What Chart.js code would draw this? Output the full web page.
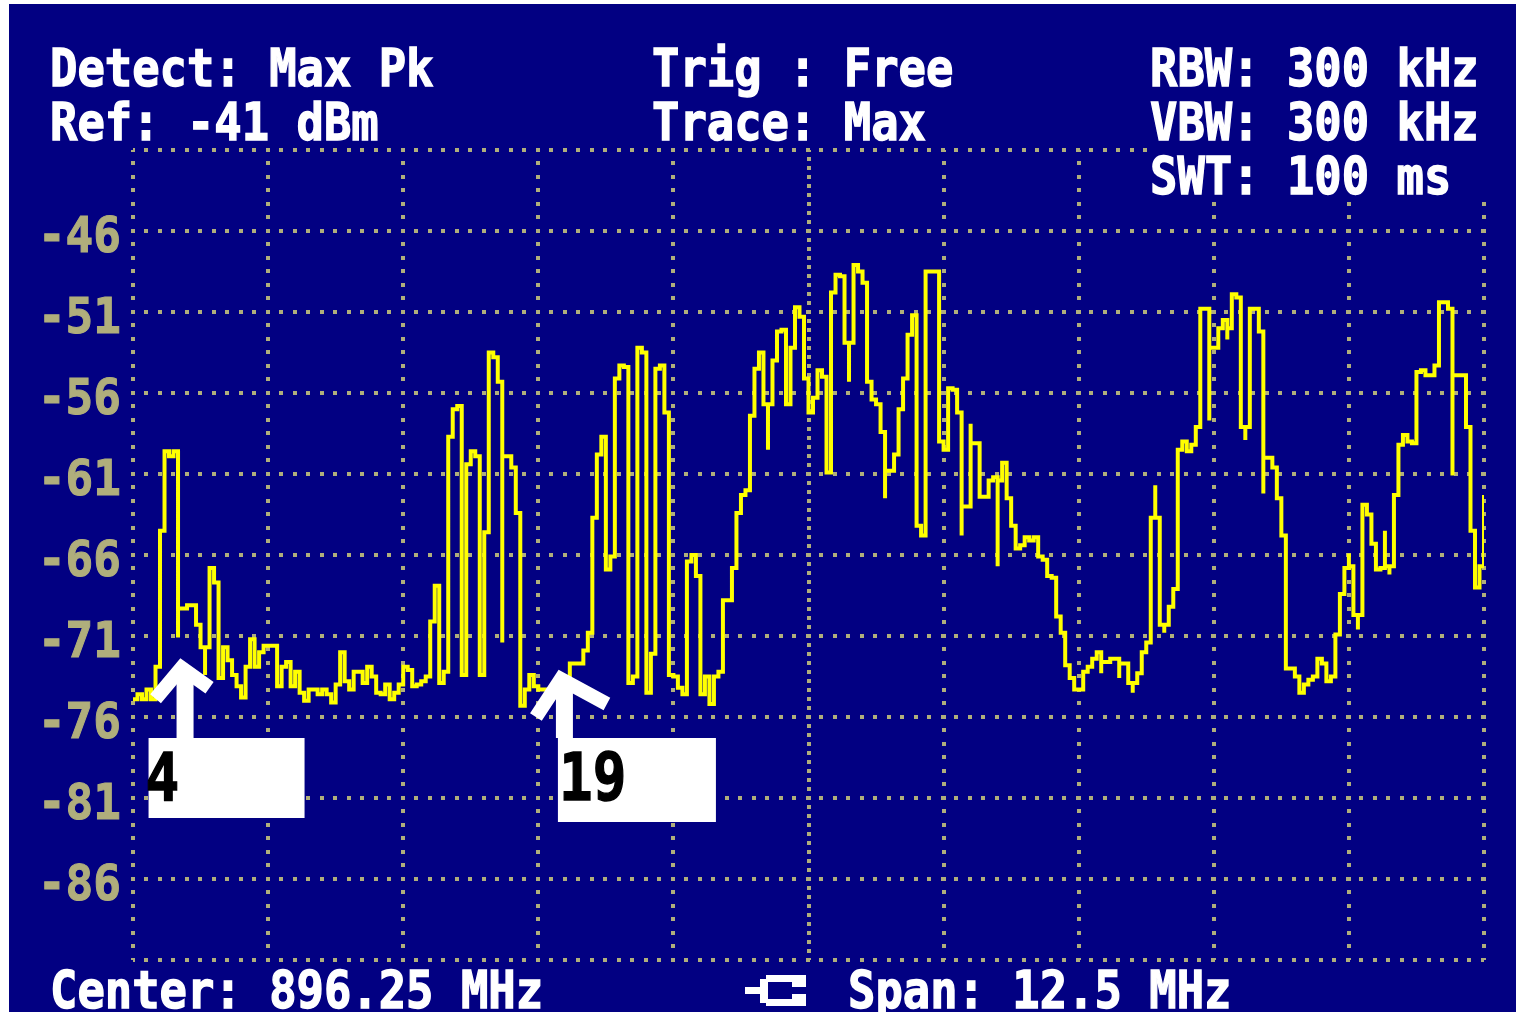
<!DOCTYPE html>
<html><head><meta charset="utf-8">
<script src="https://cdn.jsdelivr.net/npm/chart.js@4.4.0/dist/chart.umd.min.js"></script>
<style>
html,body{margin:0;padding:0;background:#ffffff;overflow:hidden;}
#c{position:absolute;left:0;top:0;}
</style></head><body>
<canvas id="c" width="1516" height="1014"></canvas>
<script>
// ---- instrument settings ----
const centerMHz = 896.25;
const spanMHz = 12.5;
const sweepPoints = 301;
const refLevelDbm = -41;
const bottomLevelDbm = -91;
const dbPerDiv = 5;
const yLabelValues = [-46, -51, -56, -61, -66, -71, -76, -81, -86];

// ---- trace (Max Pk, dBm), one value per sweep point ----
const levelDbm = [
-74.9,-74.6,-74.9,-74.3,-74.9,-72.9,-64.5,-59.6,-59.9,-59.6,
-71.1,-69.3,-69.1,-69.1,-70.3,-71.7,-73.4,-66.8,-67.7,-73.6,
-71.7,-72.5,-73.4,-74.1,-74.8,-72.9,-71.2,-72.9,-72.0,-71.6,
-71.6,-71.6,-74.1,-72.9,-72.6,-74.1,-73.2,-74.5,-75.0,-74.3,
-74.3,-74.6,-74.3,-74.6,-75.1,-74.0,-72.0,-73.8,-74.3,-73.2,
-73.2,-73.9,-72.9,-73.5,-74.5,-74.6,-74.0,-74.9,-74.5,-74.0,
-72.9,-73.1,-74.1,-74.0,-73.8,-73.5,-70.1,-67.9,-73.9,-73.2,
-58.7,-57.0,-56.8,-73.4,-60.4,-59.6,-59.9,-73.4,-64.6,-53.5,
-53.8,-55.3,-71.4,-59.9,-60.6,-63.4,-75.3,-74.3,-73.4,-74.1,
-74.3,-74.3,-74.3,-74.2,-74.2,-74.1,-73.7,-72.7,-72.7,-72.7,
-71.9,-70.8,-63.7,-59.8,-58.7,-66.9,-66.1,-55.1,-54.3,-54.4,
-73.9,-73.5,-53.2,-53.5,-74.5,-72.1,-54.5,-54.3,-57.2,-73.4,
-73.5,-74.2,-74.6,-66.4,-66.0,-67.3,-74.6,-73.5,-75.2,-73.5,
-73.2,-68.8,-68.8,-66.8,-63.4,-62.3,-62.0,-57.4,-54.5,-53.5,
-56.7,-59.5,-54.0,-52.2,-52.1,-56.7,-53.2,-50.7,-51.3,-55.1,
-57.2,-56.3,-54.6,-55.0,-60.9,-49.8,-48.7,-48.8,-52.9,-55.3,
-48.1,-48.5,-49.2,-55.3,-56.4,-56.7,-58.4,-62.5,-60.8,-59.8,
-57.0,-55.1,-52.4,-51.2,-64.2,-64.8,-48.5,-48.5,-48.5,-59.0,
-59.5,-55.7,-55.8,-57.2,-64.8,-63.0,-57.9,-59.1,-62.4,-62.4,
-61.4,-61.2,-66.7,-60.3,-62.5,-64.2,-65.6,-65.4,-64.9,-65.1,
-64.9,-66.1,-66.3,-67.3,-67.4,-69.8,-70.8,-72.8,-73.6,-74.3,
-74.3,-73.2,-72.9,-72.4,-72.0,-73.3,-72.6,-72.4,-72.4,-73.6,
-72.7,-73.9,-74.5,-73.3,-72.0,-71.4,-63.7,-61.7,-70.3,-70.8,
-69.2,-68.1,-59.5,-59.0,-59.6,-59.2,-58.1,-50.8,-50.8,-57.7,
-53.2,-52.0,-51.5,-52.7,-49.9,-50.1,-58.1,-58.9,-50.8,-50.8,
-52.2,-62.2,-60.0,-60.6,-62.5,-64.8,-73.0,-73.0,-73.5,-74.5,
-74.0,-73.7,-73.5,-72.4,-72.7,-73.8,-73.5,-70.9,-68.4,-66.8,
-65.9,-69.7,-70.6,-62.9,-63.5,-65.3,-66.9,-66.8,-64.5,-67.2,
-62.3,-59.2,-58.6,-59.0,-59.1,-54.7,-54.6,-54.9,-54.9,-54.3,
-50.4,-50.4,-50.8,-61.1,-54.9,-54.9,-58.1,-64.5,-68.0,-66.7,-62.3
];
// level the trace returns to inside the same sweep point (peak within one pixel column)
const returnDbm = {10:-69.3, 16:-71.7, 82:-59.9, 141:-56.7, 159:-52.9, 167:-60.8, 184:-63.0,
  186:-59.1, 192:-61.4, 215:-72.6, 219:-72.7, 222:-73.9, 227:-63.7, 229:-70.3, 239:-53.2,
  243:-52.0, 247:-58.1, 251:-60.0, 270:-66.7, 272:-69.7, 278:-66.7, 279:-66.7, 293:-54.9};

// ---- markers ----
const markerLabels = ['4', '19'];
const markerFreqMHz = [890.44, 893.95];
const markerDbm = [-72.4, -73.1];

// ---- texts ----
const headerLeft = ['Detect: Max Pk', 'Ref: -41 dBm'];
const headerMid = ['Trig : Free', 'Trace: Max'];
const headerRight = ['RBW: 300 kHz', 'VBW: 300 kHz', 'SWT: 100 ms'];
const footerLeft = 'Center: 896.25 MHz';
const footerRight = 'Span: 12.5 MHz';

// ---- style ----
const BLUE = '#020082';
const GRID = '#b0ae7c';
const TRACE = '#ffff00';
const FONT = '"DejaVu Sans Mono", "Liberation Mono", monospace';
const DOTS = [4, 9, 4, 10];

const points = [];
levelDbm.forEach((v, i) => {
  const f = centerMHz - spanMHz / 2 + i * spanMHz / (sweepPoints - 1);
  points.push({x: f, y: v});
  if (returnDbm[i] !== undefined) points.push({x: f, y: returnDbm[i]});
});

function pixText(ctx, str, x, baseline, size, sy, color, align, stroke) {
  ctx.save();
  ctx.font = 'bold ' + size + 'px ' + FONT;
  ctx.fillStyle = color;
  ctx.strokeStyle = color;
  ctx.lineWidth = stroke || 0;
  ctx.lineJoin = 'miter';
  ctx.textAlign = align || 'left';
  ctx.textBaseline = 'alphabetic';
  ctx.translate(x, baseline);
  ctx.scale(1, sy);
  ctx.fillText(str, 0, 0);
  if (stroke) ctx.strokeText(str, 0, 0);
  ctx.restore();
}

const framePlugin = {
  id: 'frame',
  beforeDraw(chart) {
    const ctx = chart.ctx;
    ctx.save();
    ctx.fillStyle = '#ffffff';
    ctx.fillRect(0, 0, chart.width, chart.height);
    ctx.fillStyle = BLUE;
    ctx.fillRect(9, 4, chart.width - 9, 1008);
    ctx.restore();
  }
};

const overlayPlugin = {
  id: 'overlay',
  afterDraw(chart) {
    const ctx = chart.ctx;
    const xs = chart.scales.x, ys = chart.scales.y;
    ctx.save();
    // area behind the SWT readout hides the grid
    ctx.fillStyle = BLUE;
    ctx.fillRect(1149, 138, chart.width - 1149, 63);

    // header / footer
    const W = '#ffffff';
    const fs = 45.5, sy = 1.12, sw = 1.2;
    pixText(ctx, headerLeft[0], 50, 86, fs, sy, W, 'left', sw);
    pixText(ctx, headerLeft[1], 50, 140, fs, sy, W, 'left', sw);
    pixText(ctx, headerMid[0], 652, 86, fs, sy, W, 'left', sw);
    pixText(ctx, headerMid[1], 652, 140, fs, sy, W, 'left', sw);
    pixText(ctx, headerRight[0], 1150, 86, fs, sy, W, 'left', sw);
    pixText(ctx, headerRight[1], 1150, 140, fs, sy, W, 'left', sw);
    pixText(ctx, headerRight[2], 1150, 194, fs, sy, W, 'left', sw);
    pixText(ctx, footerLeft, 50, 1008, fs, sy, W, 'left', sw);
    pixText(ctx, footerRight, 848, 1008, fs, sy, W, 'left', sw);

    // span/input icon
    ctx.fillStyle = W;
    ctx.fillRect(745, 987, 17, 7);
    ctx.fillRect(766, 975, 32, 7);
    ctx.fillRect(766, 999, 32, 7);
    ctx.fillRect(760, 979, 8, 24);
    ctx.fillRect(792, 975, 14, 12);
    ctx.fillRect(792, 994, 14, 12);

    // y labels
    yLabelValues.forEach(v => {
      const py = ys.getPixelForValue(v);
      pixText(ctx, String(v), 121, py + 21, 46, 1.1, GRID, 'right', 1);
    });

    // markers
    const boxDx = [-32, -2], boxW = [156, 158], boxH = [80, 84], txtDx = [-3, 1];
    const wingL = [[-25, 40], [-24, 47]], wingR = [[29, 29], [47, 34]];
    const boxTop = 738;
    markerLabels.forEach((lab, i) => {
      const tx = xs.getPixelForValue(markerFreqMHz[i]);
      const ty = ys.getPixelForValue(markerDbm[i]);
      ctx.strokeStyle = W; ctx.fillStyle = W;
      ctx.lineWidth = 14; ctx.lineJoin = 'miter'; ctx.lineCap = 'butt';
      ctx.beginPath();
      ctx.moveTo(tx + wingL[i][0], ty + wingL[i][1]);
      ctx.lineTo(tx + 1, ty + 9);
      ctx.lineTo(tx + wingR[i][0], ty + wingR[i][1]);
      ctx.stroke();
      ctx.fillRect(tx - 4, ty + 14, 17, boxTop - ty - 14);
      const bx = tx + boxDx[i];
      ctx.fillRect(bx, boxTop, boxW[i], boxH[i]);
      pixText(ctx, lab, bx + txtDx[i], 800, 56, 1.18, '#000000', 'left', 1.2);
    });
    ctx.restore();
  }
};

const chart = new Chart(document.getElementById('c'), {
  type: 'line',
  data: {
    datasets: [{
      data: points,
      borderColor: TRACE,
      borderWidth: 4,
      pointRadius: 0,
      stepped: true,
      fill: false,
      xAxisID: 'x',
      yAxisID: 'y'
    }]
  },
  options: {
    responsive: false,
    devicePixelRatio: 1,
    animation: false,
    events: [],
    layout: {padding: {left: 0, top: 150, right: 32, bottom: 54}},
    plugins: {legend: {display: false}, tooltip: {enabled: false}, title: {display: false}},
    scales: {
      x: {
        type: 'linear', position: 'bottom',
        min: centerMHz - spanMHz / 2, max: centerMHz + spanMHz / 2,
        ticks: {display: false, stepSize: spanMHz / 10},
        grid: {
          color: c => (c.tick && Math.abs(c.tick.value - centerMHz) < 1e-6) ? 'rgba(0,0,0,0)' : GRID,
          lineWidth: 4, drawTicks: false
        },
        border: {display: false, dash: DOTS, dashOffset: 2},
        afterFit: s => { s.height = 0; }
      },
      xc: {
        type: 'linear', position: 'bottom',
        min: centerMHz - spanMHz / 2, max: centerMHz + spanMHz / 2,
        afterBuildTicks: s => { s.ticks = [{value: centerMHz}]; },
        ticks: {display: false},
        grid: {color: GRID, lineWidth: 4, drawTicks: false},
        border: {display: false, dash: [4, 5], dashOffset: 2},
        afterFit: s => { s.height = 0; }
      },
      y: {
        type: 'linear', position: 'left',
        min: bottomLevelDbm, max: refLevelDbm,
        ticks: {display: false, stepSize: dbPerDiv},
        grid: {color: GRID, lineWidth: 4, drawTicks: false},
        border: {display: false, dash: DOTS, dashOffset: 2},
        afterFit: s => { s.width = 133; }
      }
    }
  },
  plugins: [framePlugin, overlayPlugin]
});
</script>
</body></html>
